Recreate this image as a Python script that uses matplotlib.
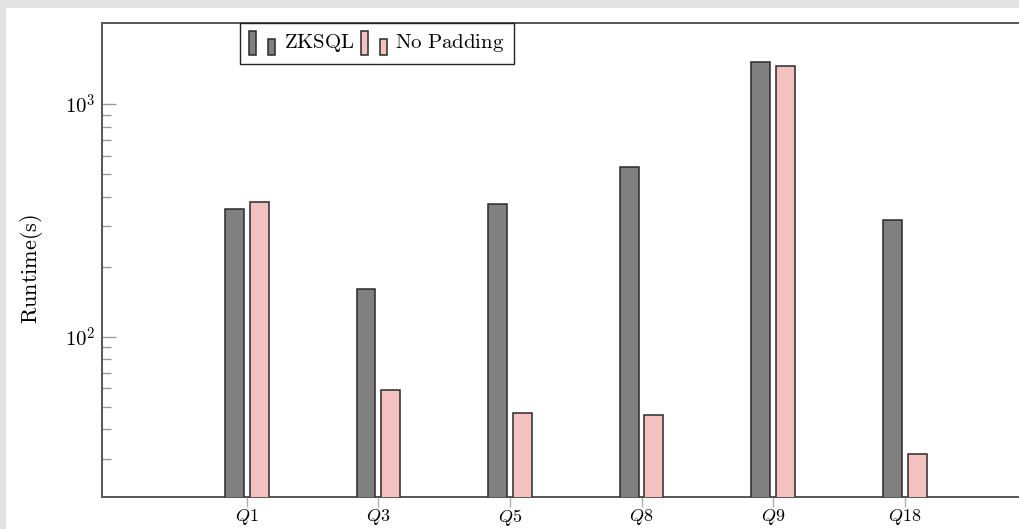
import numpy as np
import matplotlib.pyplot as plt
from matplotlib.patches import Rectangle
from matplotlib.legend_handler import HandlerBase
from matplotlib.ticker import NullFormatter, FixedLocator, FixedFormatter

plt.rcParams['mathtext.fontset'] = 'cm'

queries = ['Q1', 'Q3', 'Q5', 'Q8', 'Q9', 'Q18']
zksql = [353, 160, 372, 533, 1510, 315]
no_padding = [378, 58, 46, 45, 1452, 30.3]


class TwoBarHandler(HandlerBase):
    """pgfplots-style ybar legend image: a tall bar and a short bar"""

    def create_artists(self, legend, orig_handle, xdescent, ydescent,
                       width, height, fontsize, trans):
        w = width * 0.27
        kw = dict(facecolor=orig_handle.get_facecolor(),
                  edgecolor=orig_handle.get_edgecolor(),
                  linewidth=orig_handle.get_linewidth(), transform=trans)
        y0 = -ydescent - height * 0.25
        r1 = Rectangle((-xdescent, y0), w, height * 1.3, **kw)
        r2 = Rectangle((-xdescent + width - w, y0), w, height * 0.88, **kw)
        return [r1, r2]


fig = plt.figure(figsize=(10.2, 5.29), dpi=100)
fig.patch.set_facecolor('#e3e3e3')
fig.add_artist(Rectangle((6 / 1020, 0), 1, 521 / 529, transform=fig.transFigure,
                         facecolor='white', edgecolor='none', zorder=-10))

ax = fig.add_axes([102 / 1020, 32 / 529, 947.5 / 1020, 474.5 / 529])
ax.set_facecolor('white')

x = np.arange(len(queries))
w = 0.144
off = 0.094
dark = '#808080'
pink = '#f4c1c1'
edge = '#2a2a2a'
ax.bar(x - off, zksql, w, bottom=1, color=dark, edgecolor=edge, linewidth=1.1, zorder=3)
ax.bar(x + off, no_padding, w, bottom=1, color=pink, edgecolor=edge, linewidth=1.1, zorder=3)

ax.set_yscale('log')
ax.set_ylim(20.5, 2240)
ax.set_xlim(-1.1, 6.1)

ax.yaxis.set_major_locator(FixedLocator([100, 1000]))
ax.yaxis.set_major_formatter(FixedFormatter([r'$10^{2}$', r'$10^{3}$']))
minor = [k * 10 for k in range(3, 10)] + [k * 100 for k in range(2, 10)]
ax.yaxis.set_minor_locator(FixedLocator(minor))
ax.yaxis.set_minor_formatter(NullFormatter())
ax.tick_params(axis='y', which='major', direction='in', length=10, width=1,
               color='#9a9a9a', labelsize=15, pad=5, right=False)
ax.tick_params(axis='y', which='minor', direction='in', length=6.5, width=1,
               color='#9a9a9a', right=False)

ax.set_xticks(x)
ax.set_xticklabels([r'$%s$' % q for q in queries])
ax.tick_params(axis='x', direction='out', length=7, width=1, color='#b0b0b0',
               labelsize=13, pad=0.5, top=False)

for side in ['left', 'bottom', 'top', 'right']:
    ax.spines[side].set_color('#555555')
    ax.spines[side].set_linewidth(1.4)

ax.set_ylabel(r'$\mathrm{Runtime(s)}$', fontsize=16)
ax.yaxis.set_label_coords(-0.06, 0.481)

h1 = Rectangle((0, 0), 1, 1, facecolor=dark, edgecolor=edge, linewidth=1.1)
h2 = Rectangle((0, 0), 1, 1, facecolor=pink, edgecolor=edge, linewidth=1.1)
leg = ax.legend([h1, h2], [r'$\mathrm{ZKSQL}$', r'$\mathrm{No\ Padding}$'],
                handler_map={Rectangle: TwoBarHandler()},
                loc='upper left', bbox_to_anchor=(0.1456, 1.0), ncol=2,
                fontsize=15, frameon=True, fancybox=False, framealpha=1,
                edgecolor='#222222', handlelength=1.25, handleheight=1.0,
                handletextpad=0.4, columnspacing=0.3, borderpad=0.45,
                borderaxespad=0)
leg.get_frame().set_linewidth(1.0)
leg.set_zorder(5)

fig.savefig('out.png', dpi=100, facecolor=fig.get_facecolor())
